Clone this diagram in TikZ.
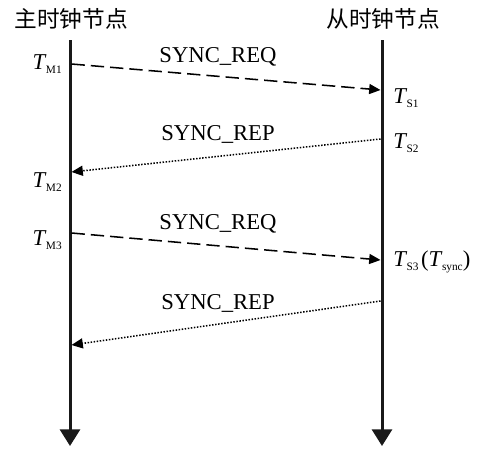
\documentclass[tikz,border=0pt]{standalone}
\usepackage{fontspec}
\setmainfont{Liberation Serif}
\newfontfamily\cjk{Noto Sans CJK SC}
\usetikzlibrary{arrows.meta}
\newcommand{\tsub}[2]{{\itshape #1}\kern0.5pt\raisebox{-0.45ex}{\fontsize{8.5}{9}\selectfont #2}}
\begin{document}
\begin{tikzpicture}[x=0.75pt,y=-0.75pt,
  timeline/.style={line width=2.25pt,color=black!90,-{Triangle[length=12.5pt,width=15pt]}},
  reqmsg/.style={line width=1.15pt,dash pattern=on 10pt off 4.5pt,-{Triangle[length=8.5pt,width=7.5pt]}},
  repmsg/.style={line width=1.15pt,dash pattern=on 1.1pt off 1.2pt,-{Triangle[length=8.5pt,width=7.5pt]}},
  lbl/.style={font=\fontsize{17}{19}\selectfont,inner sep=0pt},
  title/.style={font=\cjk\fontsize{17}{19}\selectfont,inner sep=0pt},
  tlab/.style={font=\fontsize{17}{19}\selectfont,inner sep=0pt}]
\useasboundingbox (0,0) rectangle (481,450);
\node[title] (tm) at (71,19) {主时钟节点};
\node[title] (ts) at (383,19) {从时钟节点};
\coordinate (Ltop) at (70,40);
\coordinate (Lbot) at (70,446);
\coordinate (Rtop) at (382,40);
\coordinate (Rbot) at (382,446);
\draw[timeline] (Ltop) -- (Lbot);
\draw[timeline] (Rtop) -- (Rbot);
% message end points
\coordinate (m1) at (71.5,64);
\coordinate (s1) at (380.5,90);
\coordinate (s2) at (380.5,139);
\coordinate (m2) at (71.5,172);
\coordinate (m3) at (71.5,233);
\coordinate (s3) at (380.5,260);
\coordinate (s4) at (380.5,301);
\coordinate (m4) at (71.5,345);
\draw[reqmsg] (m1) -- (s1);
\draw[repmsg] (s2) -- (m2);
\draw[reqmsg] (m3) -- (s3);
\draw[repmsg] (s4) -- (m4);
\node[lbl] (l1) at (218,57) {SYNC\_REQ};
\node[lbl] (l2) at (218,134) {SYNC\_REP};
\node[lbl] (l3) at (218,224) {SYNC\_REQ};
\node[lbl] (l4) at (218,303) {SYNC\_REP};
\node[tlab,anchor=east] (tm1) at (62,64) {\tsub{T}{M1}};
\node[tlab,anchor=east] (tm2) at (62,182) {\tsub{T}{M2}};
\node[tlab,anchor=east] (tm3) at (62,240) {\tsub{T}{M3}};
\node[tlab,anchor=west] (ts1) at (393,98) {\tsub{T}{S1}};
\node[tlab,anchor=west] (ts2) at (393,143) {\tsub{T}{S2}};
\node[tlab,anchor=west] (ts3) at (393,262) {\tsub{T}{S3}\kern2pt(\tsub{T}{sync})};
\end{tikzpicture}
\end{document}
